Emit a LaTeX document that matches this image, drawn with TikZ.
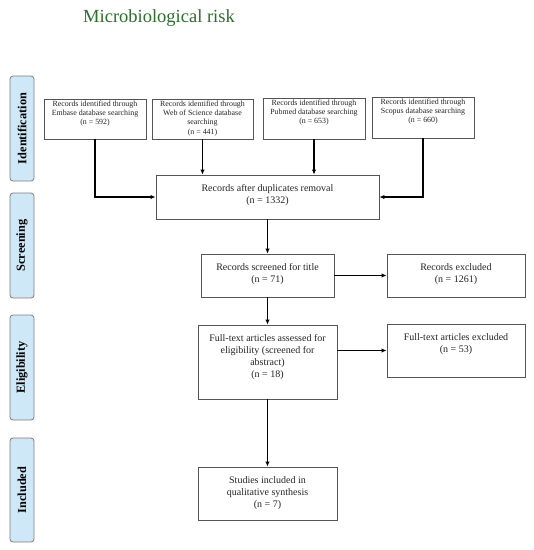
\documentclass[tikz,border=0pt]{standalone}
\usepackage{fontspec}
\setmainfont{Liberation Serif}
\usetikzlibrary{arrows.meta,calc}
\definecolor{titlegreen}{RGB}{45,110,45}
\definecolor{sidefill}{RGB}{207,232,248}
\definecolor{sidedraw}{RGB}{125,125,125}
\definecolor{boxdraw}{RGB}{85,85,85}
\definecolor{txt}{RGB}{35,35,35}
\tikzset{
  box/.style={draw=boxdraw, line width=0.9pt, inner sep=0pt},
  toptxt/.style={anchor=north, inner sep=0pt, align=center, text=txt,
    font=\fontsize{7.9}{9.3}\selectfont},
  midtxt/.style={anchor=north, inner sep=0pt, align=center, text=txt,
    font=\fontsize{10}{12}\selectfont},
  side/.style={draw=sidedraw, fill=sidefill, line width=0.8pt, rounded corners=3pt,
    minimum width=24pt, inner sep=0pt},
  sidetxt/.style={rotate=90, inner sep=0pt, text=black, font=\fontsize{12.3}{14}\selectfont\bfseries},
  arr/.style={draw=black, line width=1.1pt, -{Latex[length=5pt,width=4.5pt]}}
}
\begin{document}
\begin{tikzpicture}[x=1pt,y=-1pt]
\useasboundingbox (0,0) rectangle (534,550);
% title
\node[text=titlegreen, font=\fontsize{18.5}{22}\selectfont, inner sep=0pt] (title) at (159,18) {Microbiological risk};
% side labels
\node[side, minimum height=105pt] (sid) at (22,128.5) {};
\node[sidetxt] (sidt) at (sid.center) {Identification};
\node[side, minimum height=105pt] (ssc) at (22,245.5) {};
\node[sidetxt] (ssct) at (ssc.center) {Screening};
\node[side, minimum height=105pt] (sel) at (22,367.5) {};
\node[sidetxt] (selt) at (sel.center) {Eligibility};
\node[side, minimum height=104pt] (sin) at (22,490) {};
\node[sidetxt] (sint) at (sin.center) {Included};
% top boxes
\node[box, minimum width=102pt, minimum height=40pt] (emb) at (95,119) {};
\node[toptxt] (embt) at ($(emb.north)+(0,1.8)$) {Records identified through\\Embase database searching\\(n = 592)};
\node[box, minimum width=101pt, minimum height=40pt] (wos) at (202.5,119) {};
\node[toptxt] (wost) at ($(wos.north)+(0,1.8)$) {Records identified through\\Web of Science database\\searching\\(n = 441)};
\node[box, minimum width=102pt, minimum height=41pt] (pub) at (314,118.5) {};
\node[toptxt] (pubt) at ($(pub.north)+(0,1.8)$) {Records identified through\\Pubmed database searching\\(n = 653)};
\node[box, minimum width=102pt, minimum height=41pt] (sco) at (423,117.5) {};
\node[toptxt] (scot) at ($(sco.north)+(0,1.8)$) {Records identified through\\Scopus database searching\\(n = 660)};
% middle boxes
\node[box, minimum width=223pt, minimum height=44pt] (dup) at (267.5,197) {};
\node[midtxt] (dupt) at ($(dup.north)+(0,10)$) {Records after duplicates removal\\(n = 1332)};
\node[box, minimum width=133pt, minimum height=43pt] (scr) at (267.5,275.5) {};
\node[midtxt] (scrt) at ($(scr.north)+(0,10)$) {Records screened for title\\(n = 71)};
\node[box, minimum width=138pt, minimum height=43pt] (rex) at (456,275.5) {};
\node[midtxt] (rext) at ($(rex.north)+(0,10)$) {Records excluded\\(n = 1261)};
\node[box, minimum width=139pt, minimum height=74pt] (ful) at (267.5,362) {};
\node[midtxt] (fult) at ($(ful.north)+(0,10)$) {Full-text articles assessed for\\eligibility (screened for\\abstract)\\(n = 18)};
\node[box, minimum width=138pt, minimum height=53pt] (fex) at (456,350.5) {};
\node[midtxt] (fext) at ($(fex.north)+(0,10)$) {Full-text articles excluded\\(n = 53)};
\node[box, minimum width=139pt, minimum height=53pt] (stu) at (267.5,493.5) {};
\node[midtxt] (stut) at ($(stu.north)+(0,10)$) {Studies included in\\qualitative synthesis\\(n = 7)};
% connectors
\draw[arr] (emb.south) |- (dup.west);
\draw[arr] (wos.south) -- (wos.south |- dup.north);
\draw[arr] (pub.south) -- (pub.south |- dup.north);
\draw[arr] (sco.south) |- (dup.east);
\draw[arr] (dup.south) -- (scr.north);
\draw[arr] (scr.east) -- (rex.west);
\draw[arr] (scr.south) -- (ful.north);
\draw[arr] (ful.east |- fex.west) -- (fex.west);
\draw[arr] (ful.south) -- (stu.north);
\end{tikzpicture}
\end{document}
